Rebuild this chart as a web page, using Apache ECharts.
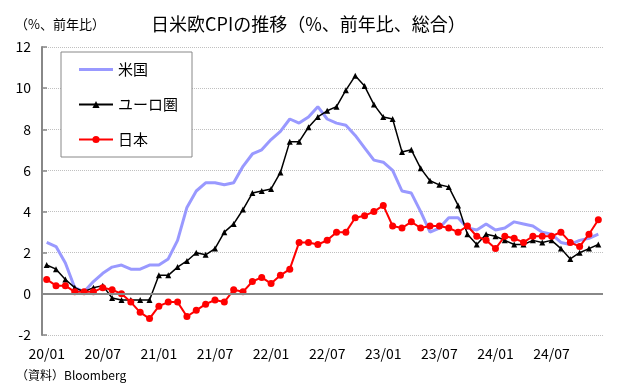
<!DOCTYPE html>
<html>
<head>
<meta charset="utf-8">
<script src="https://cdn.jsdelivr.net/npm/echarts@6/dist/echarts.min.js"></script>
<style>
html,body{margin:0;padding:0;background:#fff;}
#chart{width:618px;height:392px;}
</style>
</head>
<body>
<div id="chart"></div>
<script>
var months = [
'20/01','20/02','20/03','20/04','20/05','20/06','20/07','20/08','20/09','20/10','20/11','20/12',
'21/01','21/02','21/03','21/04','21/05','21/06','21/07','21/08','21/09','21/10','21/11','21/12',
'22/01','22/02','22/03','22/04','22/05','22/06','22/07','22/08','22/09','22/10','22/11','22/12',
'23/01','23/02','23/03','23/04','23/05','23/06','23/07','23/08','23/09','23/10','23/11','23/12',
'24/01','24/02','24/03','24/04','24/05','24/06','24/07','24/08','24/09','24/10','24/11','24/12'];

var us = [
2.5,2.3,1.5,0.3,0.1,0.6,1.0,1.3,1.4,1.2,1.2,1.4,
1.4,1.7,2.6,4.2,5.0,5.4,5.4,5.3,5.4,6.2,6.8,7.0,
7.5,7.9,8.5,8.3,8.6,9.1,8.5,8.3,8.2,7.7,7.1,6.5,
6.4,6.0,5.0,4.9,4.0,3.0,3.2,3.7,3.7,3.2,3.1,3.4,
3.1,3.2,3.5,3.4,3.3,3.0,2.9,2.5,2.4,2.6,2.7,2.9];

var euro = [
1.4,1.2,0.7,0.3,0.1,0.3,0.4,-0.2,-0.3,-0.3,-0.3,-0.3,
0.9,0.9,1.3,1.6,2.0,1.9,2.2,3.0,3.4,4.1,4.9,5.0,
5.1,5.9,7.4,7.4,8.1,8.6,8.9,9.1,9.9,10.6,10.1,9.2,
8.6,8.5,6.9,7.0,6.1,5.5,5.3,5.2,4.3,2.9,2.4,2.9,
2.8,2.6,2.4,2.4,2.6,2.5,2.6,2.2,1.7,2.0,2.2,2.4];

var japan = [
0.7,0.4,0.4,0.1,0.1,0.1,0.3,0.2,0.0,-0.4,-0.9,-1.2,
-0.6,-0.4,-0.4,-1.1,-0.8,-0.5,-0.3,-0.4,0.2,0.1,0.6,0.8,
0.5,0.9,1.2,2.5,2.5,2.4,2.6,3.0,3.0,3.7,3.8,4.0,
4.3,3.3,3.2,3.5,3.2,3.3,3.3,3.2,3.0,3.3,2.8,2.6,
2.2,2.8,2.7,2.5,2.8,2.8,2.8,3.0,2.5,2.3,2.9,3.6];

var seriesNames = ['米国','ユーロ圏','日本'];
var titleText = '日米欧CPIの推移（%、前年比、総合）';
var unitText = '（%、前年比）';
var sourceText = '（資料）Bloomberg';

var FONT = '"Noto Sans CJK JP", "Noto Sans", sans-serif';
var chart = echarts.init(document.getElementById('chart'), null, {renderer:'canvas'});
chart.setOption({
  animation:false,
  backgroundColor:'#fff',
  textStyle:{fontFamily:FONT},
  title:[
    {text:titleText, left:146, top:10, textStyle:{fontSize:18, fontWeight:'normal', color:'#000', fontFamily:FONT}},
    {text:unitText, left:10, top:13, textStyle:{fontSize:13, fontWeight:'normal', color:'#000', fontFamily:FONT}},
    {text:sourceText, left:11, top:364, textStyle:{fontSize:12, fontWeight:'normal', color:'#000', fontFamily:FONT}}
  ],
  legend:{
    orient:'vertical', left:61, top:52,
    data:[
      {name:seriesNames[0], icon:'path://M0,0 L34,0 L34,3 L0,3 Z'},
      {name:seriesNames[1]},
      {name:seriesNames[2]}
    ],
    itemWidth:34, itemHeight:9, itemGap:20,
    padding:[10,14,10,17],
    borderColor:'#888', borderWidth:1, backgroundColor:'#fff',
    textStyle:{fontSize:15, color:'#000', fontFamily:FONT}
  },
  grid:{left:42, right:15, top:47, bottom:57},
  xAxis:{
    type:'category', data:months, boundaryGap:true,
    axisLine:{show:false, onZero:false},
    axisTick:{show:false},
    axisLabel:{interval:5, fontSize:14, color:'#000', margin:12, fontFamily:FONT},
    splitLine:{show:false}
  },
  yAxis:{
    type:'value', min:-2, max:12, interval:2,
    axisLine:{show:true, lineStyle:{color:'#888', width:2}},
    axisTick:{show:true, inside:true, length:5, lineStyle:{color:'#888', width:1.5}},
    axisLabel:{fontSize:14, color:'#000', margin:11, fontFamily:FONT},
    splitLine:{show:true, lineStyle:{color:'#c0c0c0', type:'dotted', width:1}}
  },
  series:[
    {name:seriesNames[0], type:'line', data:us, showSymbol:false, symbol:'none',
     lineStyle:{color:'#9999ff', width:3}, itemStyle:{color:'#9999ff'}, z:2,
     markLine:{silent:true, symbol:['none','none'], label:{show:false},
       lineStyle:{color:'#888', width:2, type:'solid'}, data:[{yAxis:0}]}},
    {name:seriesNames[1], type:'line', data:euro, symbol:'triangle', symbolSize:6, showAllSymbol:true,
     lineStyle:{color:'#000', width:1.5}, itemStyle:{color:'#000'}, z:3},
    {name:seriesNames[2], type:'line', data:japan, symbol:'circle', symbolSize:7, showAllSymbol:true,
     lineStyle:{color:'#ff0000', width:2}, itemStyle:{color:'#ff0000'}, z:4}
  ]
});
</script>
</body>
</html>
